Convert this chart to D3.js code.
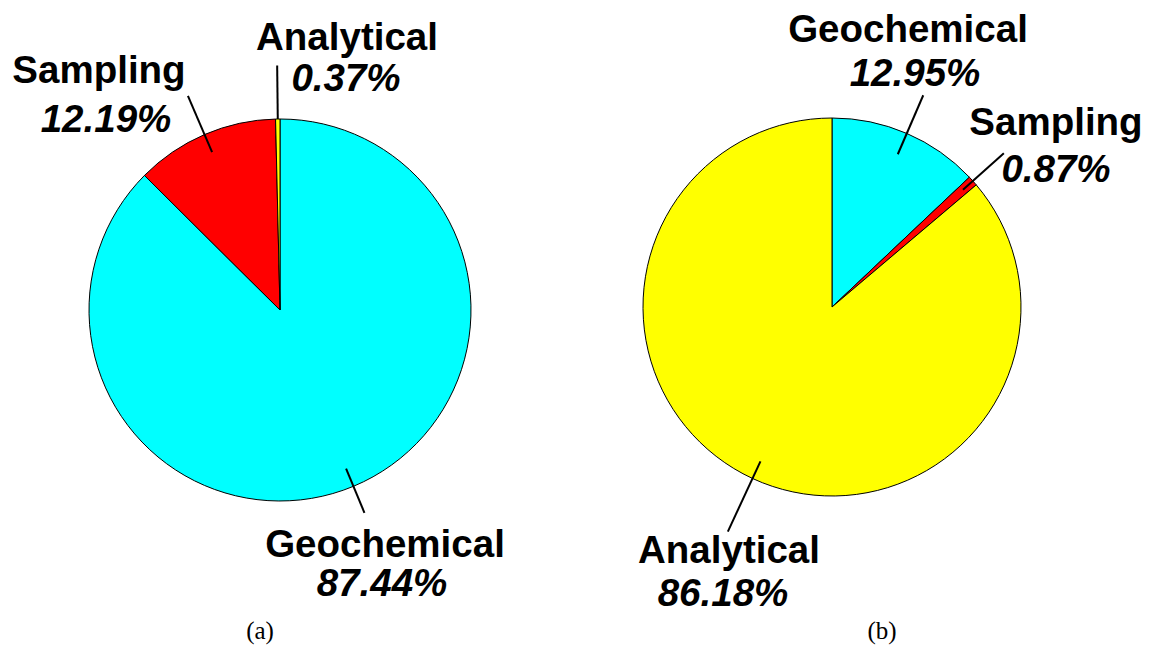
<!DOCTYPE html>
<html>
<head>
<meta charset="utf-8">
<script src="https://cdn.jsdelivr.net/npm/d3@7"></script>
<style>
  body { margin: 0; background: #fff; }
  .name { font-family: "Liberation Sans", Arial, sans-serif; font-weight: bold; font-size: 38.5px; }
  .pct { font-family: "Liberation Sans", Arial, sans-serif; font-weight: bold; font-style: italic; font-size: 38.5px; }
  .cap { font-family: "Liberation Serif", "Times New Roman", serif; font-size: 25px; }
</style>
</head>
<body>
<svg id="chart" width="1161" height="646"></svg>
<script>
// data, clockwise from 12 o'clock
var categories = ["Geochemical", "Sampling", "Analytical"];
var valuesA = [87.44, 12.19, 0.37];
var valuesB = [12.95, 0.87, 86.18];
var captions = ["(a)", "(b)"];

var colors = {Geochemical: "#00ffff", Sampling: "#ff0000", Analytical: "#ffff00"};

var svg = d3.select("#chart");

// layout for each pie: centre, radius, leader ends, label centres
var pies = [
  {values: valuesA, cx: 280, cy: 310, r: 191, caption: captions[0], capX: 260,
   lead: {Geochemical: [0.9, 1.15], Sampling: [0.9, 1.22], Analytical: [1.0, 1.28]},
   labels: {Analytical: [347, 50, 346, 91], Sampling: [99, 83, 106, 132], Geochemical: [385, 557, 382, 596]}},
  {values: valuesB, cx: 832, cy: 307, r: 189, caption: captions[1], capX: 882,
   lead: {Geochemical: [0.88, 1.22], Sampling: [0.93, 1.22], Analytical: [0.9, 1.31]},
   labels: {Geochemical: [908, 42, 915, 86], Sampling: [1056, 135, 1056, 182], Analytical: [729, 563, 723, 606]}}
];

var pie = d3.pie().sort(null).value(function(d) { return d.v; });

pies.forEach(function(p) {
  var data = categories.map(function(c, i) { return {name: c, v: p.values[i]}; });
  var arcs = pie(data);
  var arc = d3.arc().innerRadius(0).outerRadius(p.r);

  var g = svg.append("g").attr("transform", "translate(" + p.cx + "," + p.cy + ")");

  g.selectAll("path.slice")
    .data(arcs)
    .enter().append("path")
    .attr("class", "slice")
    .attr("d", arc)
    .attr("fill", function(d) { return colors[d.data.name]; })
    .attr("stroke", "#000")
    .attr("stroke-width", 1);

  // leader lines from mid angle
  g.selectAll("line.lead")
    .data(arcs)
    .enter().append("line")
    .attr("class", "lead")
    .each(function(d) {
      var a = (d.startAngle + d.endAngle) / 2;
      var f = p.lead[d.data.name];
      d3.select(this)
        .attr("x1", Math.sin(a) * p.r * f[0])
        .attr("y1", -Math.cos(a) * p.r * f[0])
        .attr("x2", Math.sin(a) * p.r * f[1])
        .attr("y2", -Math.cos(a) * p.r * f[1]);
    })
    .attr("stroke", "#000")
    .attr("stroke-width", 2);

  arcs.forEach(function(d) {
    var l = p.labels[d.data.name];
    svg.append("text").attr("class", "name")
      .attr("x", l[0]).attr("y", l[1])
      .attr("text-anchor", "middle")
      .text(d.data.name);
    svg.append("text").attr("class", "pct")
      .attr("x", l[2]).attr("y", l[3])
      .attr("text-anchor", "middle")
      .text(d3.format(".2f")(d.data.v) + "%");
  });

  svg.append("text").attr("class", "cap")
    .attr("x", p.capX).attr("y", 639)
    .attr("text-anchor", "middle")
    .text(p.caption);
});
</script>
</body>
</html>
